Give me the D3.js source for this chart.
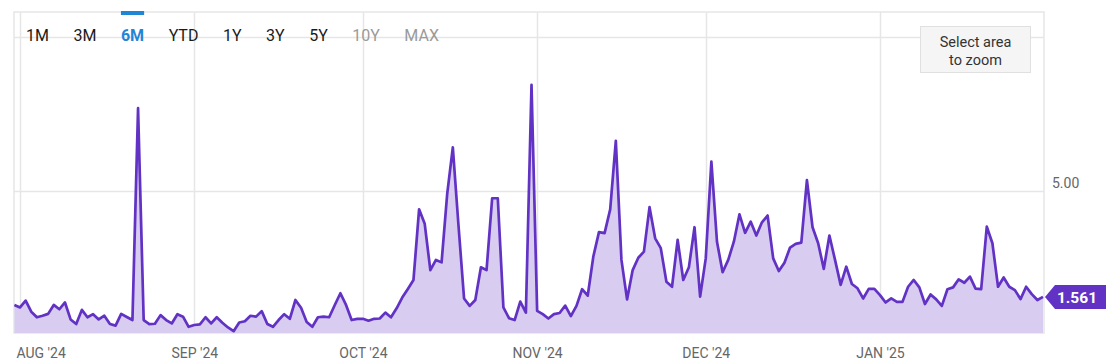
<!DOCTYPE html>
<html>
<head>
<meta charset="utf-8">
<script src="https://cdn.jsdelivr.net/npm/d3@7"></script>
<style>
  body { margin: 0; background: #fff; }
  svg { display: block; font-family: Roboto, "Noto Sans", sans-serif; }
</style>
</head>
<body>
<svg id="chart" width="1112" height="363"></svg>
<script>
// daily values, first day 31 Jul 2024
const startDate = new Date(2024, 6, 31);
const values = [
  1.30, 1.22, 1.44, 1.08, 0.90, 0.95, 1.01, 1.30, 1.16, 1.38, 0.83, 0.68, 1.14, 0.90, 1.00, 0.83,
  0.95, 0.68, 0.63, 1.01, 0.91, 0.81, 7.68, 0.81, 0.68, 0.69, 0.97, 0.81, 0.70, 1.00, 0.92, 0.59,
  0.65, 0.67, 0.90, 0.70, 0.90, 0.72, 0.57, 0.45, 0.73, 0.77, 0.95, 0.92, 1.10, 0.68, 0.59, 0.81,
  1.00, 0.85, 1.46, 1.21, 0.75, 0.59, 0.90, 0.92, 0.90, 1.30, 1.68, 1.30, 0.81, 0.85,
  0.85, 0.79, 0.85, 0.86, 1.05, 0.90, 1.19, 1.54, 1.82, 2.11, 4.40, 3.93, 2.43, 2.76, 2.68, 4.90,
  6.41, 3.90, 1.51, 1.27, 1.46, 2.52, 2.43, 4.76, 4.76, 1.22, 0.87, 0.81, 1.41, 1.05, 8.44,
  1.11, 1.00, 0.86, 1.00, 1.04, 1.28, 0.94, 1.27, 1.81, 1.60, 2.87, 3.66, 3.63, 4.40, 6.62, 2.76,
  1.48, 2.43, 2.83, 3.03, 4.47, 3.46, 3.14, 2.05, 1.89, 3.41, 2.11, 2.52, 3.82, 1.57,
  2.81, 5.95, 3.35, 2.36, 2.76, 3.35, 4.24, 3.64, 4.00, 3.55, 3.98, 4.20, 2.81, 2.40, 2.67, 3.16,
  3.28, 3.32, 5.35, 3.82, 3.30, 2.47, 3.55, 2.76, 1.95, 2.54, 1.98, 1.84, 1.51, 1.82, 1.82,
  1.62, 1.38, 1.51, 1.40, 1.40, 1.89, 2.11, 1.87, 1.33, 1.64, 1.48, 1.27, 1.81, 1.87, 2.13, 2.02,
  2.22, 1.83, 1.81, 3.84, 3.30, 1.89, 2.19, 1.89, 1.78, 1.49, 1.89, 1.65, 1.46, 1.561
];
const monthStarts = [new Date(2024, 7, 1), new Date(2024, 8, 1), new Date(2024, 9, 1),
  new Date(2024, 10, 1), new Date(2024, 11, 1), new Date(2025, 0, 1)];
const monthLabels = ["AUG '24", "SEP '24", "OCT '24", "NOV '24", "DEC '24", "JAN '25"];
const yTicks = [5, 10];
const yTickLabels = ["5.00", ""];
const rangeButtons = ["1M", "3M", "6M", "YTD", "1Y", "3Y", "5Y", "10Y", "MAX"];
const activeRange = "6M";
const disabledRanges = ["10Y", "MAX"];

const data = values.map((v, i) => ({ date: d3.timeDay.offset(startDate, i), value: v }));

const svg = d3.select("#chart");
const plot = { left: 14, right: 1044, top: 12, bottom: 333 };
const lineColor = "#6132c4", fillColor = "#d8cdf0", gridColor = "#e6e6e6";

const x = d3.scaleTime()
  .domain([data[0].date, data[data.length - 1].date])
  .range([plot.left + 0.4, plot.right - 1]);
const y = d3.scaleLinear().domain([0.39, 10.8]).range([plot.bottom, plot.top]);

// grid lines
svg.append("g").selectAll("line.hgrid").data(yTicks).join("line")
  .attr("x1", plot.left).attr("x2", plot.right)
  .attr("y1", d => Math.round(y(d)) + 0.5).attr("y2", d => Math.round(y(d)) + 0.5)
  .attr("stroke", gridColor).attr("stroke-width", 1.5);
svg.append("g").selectAll("line.vgrid").data(monthStarts).join("line")
  .attr("x1", d => Math.round(x(d)) + 0.5).attr("x2", d => Math.round(x(d)) + 0.5)
  .attr("y1", plot.top).attr("y2", plot.bottom)
  .attr("stroke", gridColor).attr("stroke-width", 1.5);

// frame
svg.append("rect")
  .attr("x", plot.left).attr("y", plot.top)
  .attr("width", plot.right - plot.left).attr("height", plot.bottom - plot.top)
  .attr("fill", "none").attr("stroke", gridColor).attr("stroke-width", 1.5);

// area + line
const area = d3.area().x(d => x(d.date)).y0(plot.bottom).y1(d => y(d.value));
const line = d3.line().x(d => x(d.date)).y(d => y(d.value));
svg.append("path").datum(data).attr("d", area).attr("fill", fillColor);
svg.append("path").datum(data).attr("d", line)
  .attr("fill", "none").attr("stroke", lineColor).attr("stroke-width", 2.7)
  .attr("stroke-linejoin", "round");

// x axis labels
const xAxis = d3.axisBottom(x).tickValues(monthStarts).tickSize(0)
  .tickFormat((d, i) => monthLabels[i]);
const gx = svg.append("g").attr("transform", "translate(0," + plot.bottom + ")").call(xAxis);
gx.select(".domain").remove();
gx.selectAll("text")
  .attr("y", 25).attr("dy", 0)
  .style("font-family", "Roboto, sans-serif").style("font-size", "14px").attr("fill", "#666");
gx.selectAll(".tick").filter((d, i) => i === 0).select("text")
  .attr("text-anchor", "start").attr("x", -4);

// y axis labels (right side)
const yAxis = d3.axisRight(y).tickValues(yTicks).tickSize(0).tickFormat((d, i) => yTickLabels[i]);
const gy = svg.append("g").attr("transform", "translate(" + (plot.right + 8) + ",0)").call(yAxis);
gy.select(".domain").remove();
gy.selectAll("text")
  .attr("x", 0).attr("dy", "-0.25em")
  .style("font-family", "Roboto, sans-serif").style("font-size", "14px").attr("fill", "#666");

// last value flag
const last = data[data.length - 1];
const ly = y(last.value);
const lx = x(last.date) + 2;
svg.append("path")
  .attr("d", d3.line()([[lx, ly], [lx + 10, ly - 12], [1106, ly - 12], [1106, ly + 12], [lx + 10, ly + 12]]) + "Z")
  .attr("fill", lineColor);
svg.append("text")
  .attr("x", 1077).attr("y", ly + 6)
  .attr("text-anchor", "middle")
  .style("font-size", "15.5px").style("font-weight", "bold").attr("fill", "#fff")
  .text(d3.format(".3f")(last.value));

// range selector buttons
const btns = svg.append("g").attr("id", "ranges");
let bx = 26;
rangeButtons.forEach(function (r) {
  const t = btns.append("text")
    .attr("x", bx).attr("y", 41)
    .style("font-size", "16px")
    .style("font-weight", r === activeRange ? "bold" : "normal")
    .attr("fill", r === activeRange ? "#1f86d6" : (disabledRanges.includes(r) ? "#9a9a9a" : "#1a1a1a"))
    .text(r);
  const w = t.node().getComputedTextLength();
  if (r === activeRange) {
    btns.append("rect").attr("x", bx).attr("y", 11).attr("width", w).attr("height", 4).attr("fill", "#1f86d6");
  }
  bx += w + 24.5;
});

// zoom hint box
const hint = svg.append("g");
hint.append("rect")
  .attr("x", 920.5).attr("y", 26.5).attr("width", 110).attr("height", 46)
  .attr("fill", "#f5f5f5").attr("stroke", "#e0e0e0");
hint.append("text").attr("x", 975.5).attr("y", 47).attr("text-anchor", "middle")
  .style("font-size", "14.5px").attr("fill", "#333").text("Select area");
hint.append("text").attr("x", 975.5).attr("y", 64.5).attr("text-anchor", "middle")
  .style("font-size", "14.5px").attr("fill", "#333").text("to zoom");
</script>
</body>
</html>
